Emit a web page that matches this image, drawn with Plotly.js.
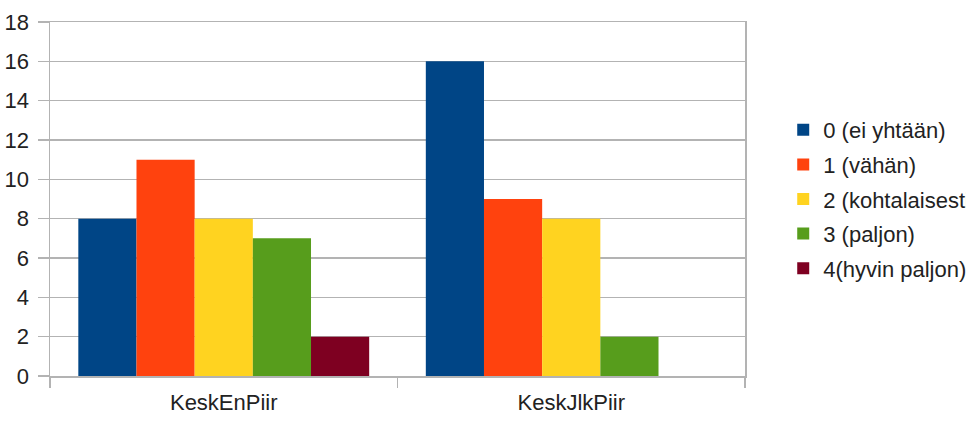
<!DOCTYPE html>
<html>
<head>
<meta charset="utf-8">
<script src="https://cdn.plot.ly/plotly-3.0.1.min.js"></script>
<style>
  html, body { margin: 0; padding: 0; background: #fff; overflow: hidden; }
  #chart { width: 1000px; height: 421px; }
</style>
</head>
<body>
<div id="chart"></div>
<script>
// Two districts, five answer levels
const categories = ['KeskEnPiir', 'KeskJlkPiir'];
const seriesNames = ['0 (ei yhtään)', '1 (vähän)', '2 (kohtalaisesti)', '3 (paljon)', '4(hyvin paljon)'];
const level0 = [8, 16];
const level1 = [11, 9];
const level2 = [8, 8];
const level3 = [7, 2];
const level4 = [2, 0];
const seriesValues = [level0, level1, level2, level3, level4];
const seriesColors = ['#004586', '#ff420e', '#ffd320', '#579d1c', '#7e0021'];
const yTicks = [0, 2, 4, 6, 8, 10, 12, 14, 16, 18];

const traces = seriesNames.map((name, i) => ({
  type: 'bar',
  name: name,
  x: categories,
  y: seriesValues[i],
  legendgroup: 'g' + i,
  marker: { color: seriesColors[i], line: { width: 0 } },
  hoverinfo: 'x+y+name'
}));

const gridColor = '#b3b3b3';
const fontFamily = '"Liberation Sans", Arial, sans-serif';

// The figure is a little wider than the window; the legend's longest
// label runs past the right edge and is cut off there.
const layout = {
  width: 1000,
  height: 421,
  margin: { l: 50, r: 255, t: 22, b: 45 },
  paper_bgcolor: '#fff',
  plot_bgcolor: '#fff',
  barmode: 'group',
  bargap: 0.163,
  bargroupgap: 0,
  font: { family: fontFamily, size: 22, color: '#222' },
  showlegend: true,
  legend: {
    x: 1.055, xanchor: 'left',
    y: 0.5, yanchor: 'middle',
    font: { family: fontFamily, size: 22, color: '#222' },
    tracegroupgap: 3,
    traceorder: 'grouped',
    bgcolor: 'rgba(0,0,0,0)'
  },
  xaxis: {
    type: 'category',
    showline: true, linecolor: gridColor, linewidth: 1.5, mirror: true,
    ticks: 'outside', tickson: 'boundaries', ticklen: 10, tickcolor: gridColor, tickwidth: 1.5,
    ticklabelstandoff: 6,
    showgrid: false, zeroline: false,
    tickfont: { family: fontFamily, size: 22, color: '#222' },
    fixedrange: true
  },
  yaxis: {
    range: [0, 18],
    tickvals: yTicks,
    ticktext: yTicks.map(String),
    showline: true, linecolor: gridColor, linewidth: 1.5, mirror: true,
    ticks: 'outside', ticklen: 11, tickcolor: gridColor, tickwidth: 1.5,
    ticklabelstandoff: 4,
    showgrid: true, gridcolor: gridColor, gridwidth: 1.5,
    zeroline: false,
    tickfont: { family: fontFamily, size: 22, color: '#222' },
    fixedrange: true
  }
};

Plotly.newPlot('chart', traces, layout, { displayModeBar: false, staticPlot: true });
</script>
</body>
</html>
